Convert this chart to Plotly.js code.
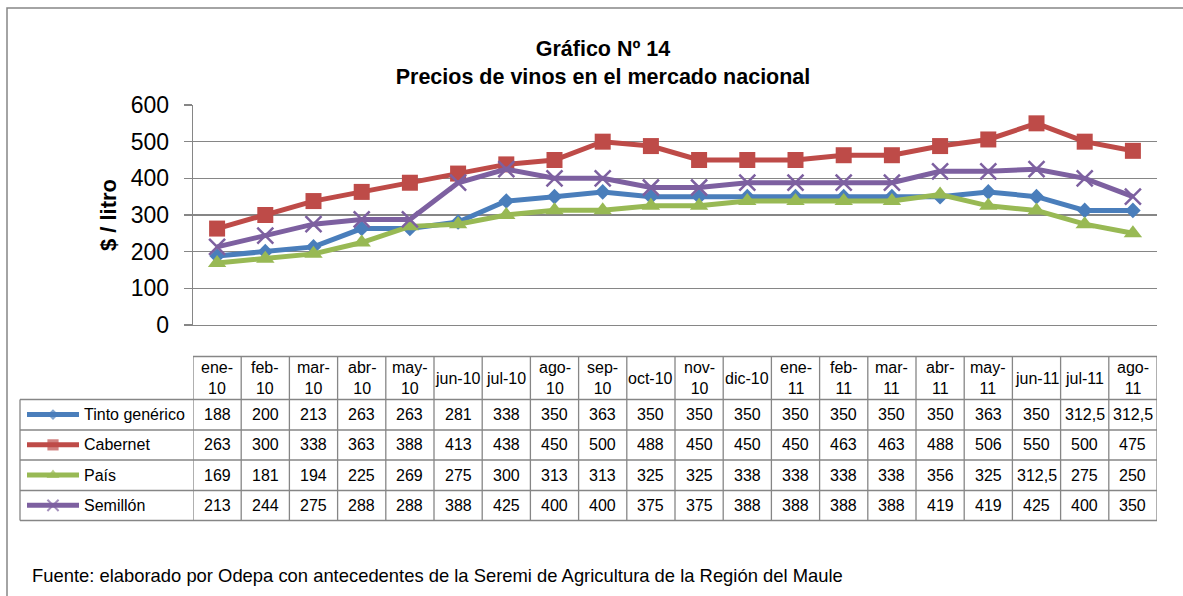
<!DOCTYPE html>
<html>
<head>
<meta charset="utf-8">
<script src="https://cdn.plot.ly/plotly-3.0.1.min.js"></script>
<style>html,body{margin:0;padding:0;background:#fff;}#chart{width:1183px;height:596px;}</style>
</head>
<body>
<div id="chart"></div>
<script>
// ---- data ----
const months = ['ene-10','feb-10','mar-10','abr-10','may-10','jun-10','jul-10','ago-10','sep-10','oct-10','nov-10','dic-10','ene-11','feb-11','mar-11','abr-11','may-11','jun-11','jul-11','ago-11'];
const tintoGenerico = [188,200,213,263,263,281,338,350,363,350,350,350,350,350,350,350,363,350,312.5,312.5];
const cabernet = [263,300,338,363,388,413,438,450,500,488,450,450,450,463,463,488,506,550,500,475];
const pais = [169,181,194,225,269,275,300,313,313,325,325,338,338,338,338,356,325,312.5,275,250];
const semillon = [213,244,275,288,288,388,425,400,400,375,375,388,388,388,388,419,419,425,400,350];
const seriesNames = ['Tinto genérico','Cabernet','País','Semillón'];
const singleLineLabels = ['jun-10','jul-10','oct-10','dic-10','jun-11','jul-11'];
const titleText = 'Gráfico Nº 14<br>Precios de vinos en el mercado nacional';
const yTitle = '$ / litro';
const sourceText = 'Fuente: elaborado por Odepa con antecedentes de la Seremi de Agricultura de la Región del Maule';

// ---- styling ----
const W = 1183, H = 596;
const FONT = 'Liberation Sans, Arial, sans-serif';
const GRAY = '#868686';
const px = x => x / W;
const py = y => (H - y) / H;
const values = [tintoGenerico, cabernet, pais, semillon];
const styles = [
  {color:'#4A7EBB', symbol:'diamond', size:12, lw:0},
  {color:'#BE4B48', symbol:'square', size:16, lw:0},
  {color:'#98B954', symbol:'triangle-up', size:16, lw:0},
  {color:'#7D60A0', symbol:'x-thin-open', size:16, lw:2.5}
];

const traces = [];
values.forEach((v, k) => {
  const s = styles[k];
  traces.push({
    type:'scatter', mode:'lines+markers', x: months, y: v, name: seriesNames[k],
    line:{color:s.color, width:5}, cliponaxis:false,
    marker:{color:s.color, symbol:s.symbol, size:s.size, line:{color:s.color, width:s.lw}},
    showlegend:false, hoverinfo:'x+y+name'
  });
  // legend key inside the data table
  traces.push({
    type:'scatter', mode:'lines+markers', x:[0,0.5,1], y:[k+0.5,k+0.5,k+0.5],
    xaxis:'x2', yaxis:'y2', showlegend:false, hoverinfo:'skip', cliponaxis:false,
    line:{color:s.color, width:5},
    marker:{color:s.color, symbol:s.symbol, size:[0, s.size*0.7, 0], line:{color:s.color, width:s.lw ? 2 : 0}}
  });
});

// ---- data table drawn under the plot ----
const headerTop = 356.5, headerBot = 399.5;
const rowBounds = [399.5, 430, 460, 490.5, 520.5];
const tableLeft = 20;
const shapes = [];
const annotations = [];
const lineStyle = {color:GRAY, width:1.3};
// outer chart border
shapes.push({type:'rect', xref:'paper', yref:'paper', x0:px(7), x1:px(1190), y0:py(8), y1:py(605), line:{color:GRAY, width:1.5}});
// header top
shapes.push({type:'line', xref:'x', yref:'paper', x0:-0.5, x1:months.length-0.5, y0:py(headerTop), y1:py(headerTop), line:lineStyle});
// row lines (full width incl. legend column)
rowBounds.forEach(yb => {
  shapes.push({type:'line', xref:'paper', yref:'paper', x0:px(tableLeft), x1:px(1157), y0:py(yb), y1:py(yb), line:lineStyle});
});
// vertical lines
for (let i = 0; i <= months.length; i++) {
  shapes.push({type:'line', xref:'x', yref:'paper', x0:i-0.5, x1:i-0.5, y0:py(headerTop), y1:py(rowBounds[4]), line:lineStyle});
}
shapes.push({type:'line', xref:'paper', yref:'paper', x0:px(tableLeft), x1:px(tableLeft), y0:py(rowBounds[0]), y1:py(rowBounds[4]), line:lineStyle});

const cellFont = {family:FONT, size:16, color:'#000'};
months.forEach((m, i) => {
  const label = singleLineLabels.includes(m) ? m : m.replace('-', '-<br>');
  annotations.push({xref:'x', yref:'paper', x:i, y:py((headerTop+headerBot)/2), text:label,
    showarrow:false, xanchor:'center', yanchor:'middle', font:cellFont, align:'center'});
  values.forEach((v, k) => {
    annotations.push({xref:'x', yref:'paper', x:i, y:py((rowBounds[k]+rowBounds[k+1])/2),
      text:String(v[i]).replace('.', ','), showarrow:false, xanchor:'center', yanchor:'middle', font:cellFont});
  });
});
seriesNames.forEach((n, k) => {
  annotations.push({xref:'paper', yref:'paper', x:px(82), y:py((rowBounds[k]+rowBounds[k+1])/2), text:n,
    showarrow:false, xanchor:'left', yanchor:'middle', font:cellFont});
});
annotations.push({xref:'paper', yref:'paper', x:px(30), y:py(575), text:sourceText, showarrow:false,
  xanchor:'left', yanchor:'middle', font:{family:FONT, size:18.4, color:'#000'}});

const layout = {
  width:W, height:H, margin:{l:0, r:0, t:0, b:0},
  paper_bgcolor:'#fff', plot_bgcolor:'#fff',
  font:{family:FONT, color:'#000'},
  title:{text:titleText, x:px(603), xanchor:'center', y:py(56), yanchor:'middle',
    font:{family:FONT, size:21.5, weight:'bold', color:'#000'}},
  xaxis:{type:'category', domain:[px(193), px(1157)], range:[-0.5, months.length-0.5],
    showgrid:false, zeroline:false, showline:true, linecolor:GRAY, linewidth:1.3,
    showticklabels:false, ticks:'', fixedrange:true},
  yaxis:{domain:[py(325), py(105)], range:[0,600], dtick:100, tick0:0,
    showgrid:true, gridcolor:GRAY, gridwidth:1.3, zeroline:false,
    showline:true, linecolor:GRAY, linewidth:1.3, ticks:'outside', ticklen:8, tickcolor:GRAY, tickwidth:1.3,
    ticklabelstandoff:10,
    tickfont:{family:FONT, size:23, color:'#000'},
    title:{text:yTitle, standoff:8, font:{family:FONT, size:22, weight:'bold', color:'#000'}}},
  xaxis2:{domain:[px(27), px(79)], range:[0,1], visible:false, anchor:'y2', fixedrange:true},
  yaxis2:{domain:[py(rowBounds[4]), py(rowBounds[0])], range:[4,0], visible:false, anchor:'x2', fixedrange:true},
  shapes:shapes, annotations:annotations, showlegend:false
};
Plotly.newPlot('chart', traces, layout, {displayModeBar:false, staticPlot:true});
</script>
</body>
</html>
